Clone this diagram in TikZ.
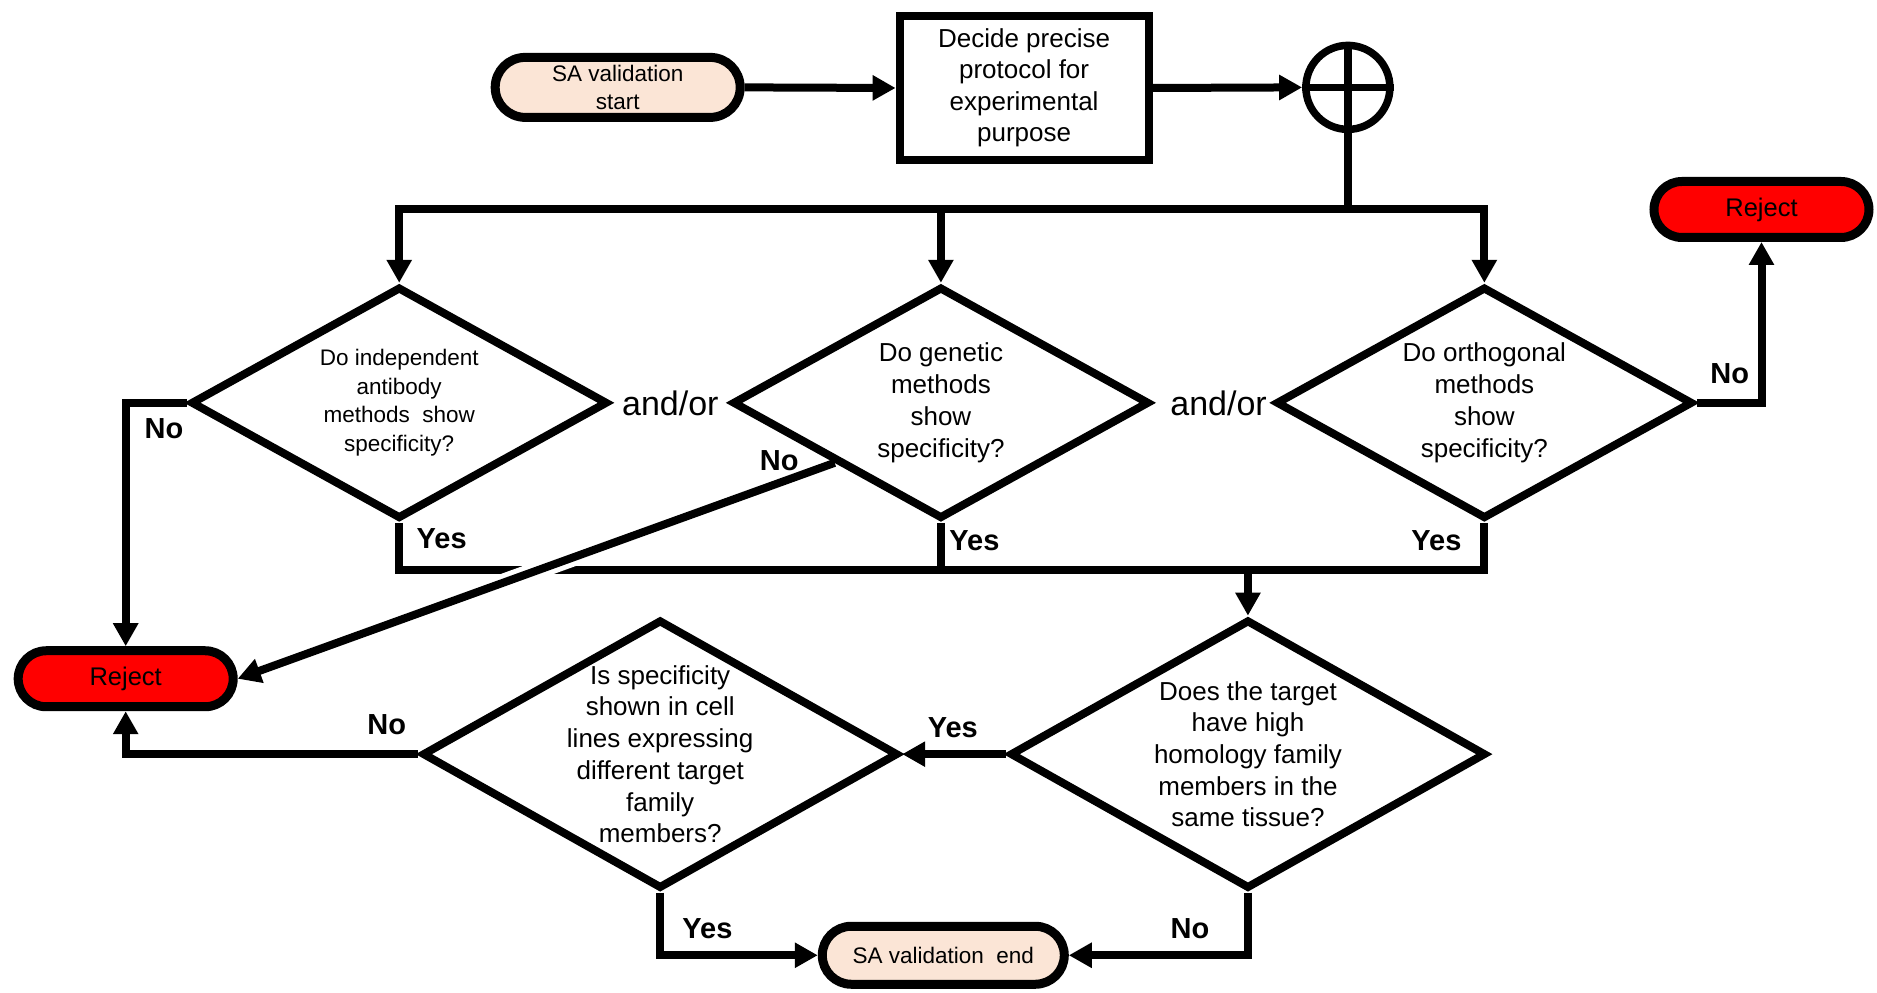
\documentclass[tikz,border=0pt]{standalone}
\usepackage{fontspec}
\setmainfont{Liberation Sans}
\usetikzlibrary{shapes.geometric,shapes.misc,arrows.meta,calc}
\definecolor{peach}{HTML}{FBE5D6}
\begin{document}
\begin{tikzpicture}[x=1.19707pt,y=-1.19707pt,
 conn/.style={line width=8pt},
 arr/.style={conn,-{Triangle[length=23pt,width=24pt]}},
 term/.style={rounded rectangle, draw, line width=9pt, inner sep=0pt, align=center},
 startend/.style={term, fill=peach, font=\fontsize{22.5}{28.7}\selectfont},
 rej/.style={term, fill=red, minimum width=215pt, minimum height=56pt, font=\fontsize{25.5}{30}\selectfont},
 dec/.style={diamond, draw, line width=8pt, inner sep=0pt, minimum width=417pt, minimum height=232pt},
 decbig/.style={dec, minimum width=476pt, minimum height=269pt},
 dtxt/.style={align=center, inner sep=0pt, font=\fontsize{26}{31.7}\selectfont},
 yn/.style={font=\fontsize{29}{34}\selectfont\bfseries, inner sep=0pt},
 andor/.style={font=\fontsize{34}{40}\selectfont, inner sep=0pt}]
\useasboundingbox (0,0) rectangle (1568,829);

% nodes
\node[startend, minimum width=245pt, minimum height=60pt] (start) at (516,73) {SA validation\\start};
\node[draw, line width=8pt, minimum width=249pt, minimum height=144pt, align=center, inner sep=0pt,
      font=\fontsize{26}{31.5}\selectfont] (box) at (855.5,73.5) {Decide precise\\protocol for\\experimental\\purpose};
\node[circle, draw, line width=7.5pt, minimum size=84pt, inner sep=0pt] (circ) at (1126,73) {};
\draw[line width=7.5pt] (circ.north) -- (circ.south) (circ.west) -- (circ.east);

\node[rej] (rejR) at (1471.5,175) {Reject};
\node[rej] (rejL) at (105,567) {Reject};

\node[dec] (d1) at (333.5,336.5) {};
\node[dtxt, font=\fontsize{22.5}{28.7}\selectfont] (d1t) at (d1.center) {Do independent\\antibody\\methods~ show\\specificity?};
\node[dec] (d2) at (786,336.5) {};
\node[dtxt] (d2t) at (d2.center) {Do genetic\\methods\\show\\specificity?};
\node[dec] (d3) at (1240,336.5) {};
\node[dtxt] (d3t) at (d3.center) {Do orthogonal\\methods\\show\\specificity?};

\node[andor] (ao1) at (560,337) {and/or};
\node[andor] (ao2) at (1018,337) {and/or};

\node[decbig] (d4) at (1042.5,630) {};
\node[dtxt] (d4t) at (d4.center) {Does the target\\have high\\homology family\\members in the\\same tissue?};
\node[decbig] (d5) at (551.5,630) {};
\node[dtxt] (d5t) at (d5.center) {Is specificity\\shown in cell\\lines expressing\\different target\\family\\members?};

\node[startend, minimum width=242pt, minimum height=58pt] (endN) at (788,798) {SA validation~ end};

% connectors
\coordinate (bus) at (1126,175);
\coordinate (yb) at (1042.5,476);
\draw[arr] (start.east) -- (box.west);
\draw[arr] (box.east) -- (circ.west);
\draw[conn] (circ.south) -- (bus);
\draw[arr] (bus) -| (d1.north);
\draw[arr] (bus) -| (d2.north);
\draw[arr] (bus) -| (d3.north);

\draw[arr] (d3.east) -| (rejR.south);
\draw[arr] (d1.west) -| (rejL.north);

\draw[conn] (d1.south) |- (yb) -| (d3.south);
\draw[conn] (d2.south) -- (d2.south |- yb);
\draw[arr] (yb) -- (d4.north);

\coordinate (d2no) at ($(d2.west)!0.5!(d2.south)$);
\draw[white, line width=18pt] ($(d2no)!0.42!(rejL.east)$) -- ($(d2no)!0.58!(rejL.east)$);
\draw[arr] (d2no) -- (rejL.east);

\draw[arr] (d4.west) -- (d5.east);
\draw[arr] (d5.west) -| (rejL.south);
\draw[arr] (d5.south) |- (endN.west);
\draw[arr] (d4.south) |- (endN.east);

% labels
\node[yn] (n1) at (137,358) {No};
\node[yn] (n2) at (651,385) {No};
\node[yn] (n3) at (1445,312) {No};
\node[yn] (y1) at (369,450) {Yes};
\node[yn] (y2) at (814,452) {Yes};
\node[yn] (y3) at (1200,452) {Yes};
\node[yn] (y4) at (796,608) {Yes};
\node[yn] (n4) at (323,605) {No};
\node[yn] (y5) at (591,776) {Yes};
\node[yn] (n5) at (994,776) {No};
\end{tikzpicture}
\end{document}
